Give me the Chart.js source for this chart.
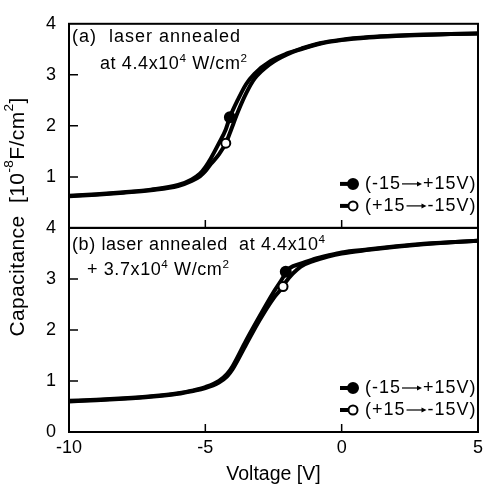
<!DOCTYPE html>
<html>
<head>
<meta charset="utf-8">
<script src="https://cdn.jsdelivr.net/npm/chart.js@4.4.0/dist/chart.umd.min.js"></script>
<style>
  html, body { margin: 0; padding: 0; background: #fff; }
  #wrap { width: 488px; height: 490px; }
</style>
</head>
<body>
<div id="wrap"><canvas id="myChart"></canvas></div>
<script>
// panel (a): laser annealed at 4.4x10^4 W/cm2
const voltsA = [-10, -9, -8, -7, -6, -5.5, -5.2, -5, -4.8, -4.5, -4.25, -4.1, -3.8, -3.5, -3.2, -2.6, -2, -1.5, -0.8, 0, 1, 2, 3, 4, 5];
const upA    = [0.63, 0.66, 0.70, 0.75, 0.84, 0.95, 1.06, 1.19, 1.36, 1.66, 1.93, 2.17, 2.52, 2.82, 3.02, 3.27, 3.42, 3.51, 3.62, 3.69, 3.74, 3.77, 3.79, 3.80, 3.81];
const downA  = [0.62, 0.65, 0.69, 0.74, 0.82, 0.92, 1.01, 1.11, 1.25, 1.44, 1.66, 1.86, 2.28, 2.64, 2.92, 3.22, 3.40, 3.50, 3.61, 3.68, 3.73, 3.76, 3.78, 3.80, 3.81];

// panel (b): laser annealed at 4.4x10^4 + 3.7x10^4 W/cm2
const voltsB = [-10, -9, -8, -7, -6, -5.5, -5, -4.5, -4.2, -4, -3.5, -3, -2.5, -2.15, -2.05, -1.5, -1, -0.5, 0, 1, 2, 3, 4, 5];
const upB    = [0.61, 0.63, 0.66, 0.70, 0.76, 0.81, 0.88, 1.00, 1.14, 1.29, 1.80, 2.28, 2.74, 3.03, 3.14, 3.30, 3.39, 3.46, 3.52, 3.58, 3.64, 3.69, 3.72, 3.75];
const downB  = [0.60, 0.62, 0.65, 0.69, 0.75, 0.80, 0.86, 0.97, 1.09, 1.23, 1.72, 2.20, 2.62, 2.85, 2.94, 3.24, 3.36, 3.44, 3.50, 3.57, 3.63, 3.68, 3.72, 3.75];

// index of the single marker drawn on each sweep
const markA = { up: 11, down: 10 };
const markB = { up: 14, down: 13 };

const sweepLabels = [['(-15', '+15V)'], ['(+15', '-15V)']];
const xTicks = [-5, 0];
const yTicks = [1, 2, 3];

const FONT = "'Liberation Sans', Arial, sans-serif";
Chart.defaults.font.family = FONT;
Chart.defaults.color = '#000';

function series(v, c, axis, mark, filled) {
    return {
        data: v.map((x, i) => ({ x: x, y: c[i] })),
        yAxisID: axis,
        borderColor: '#000',
        borderWidth: 4,
        cubicInterpolationMode: 'monotone',
        pointRadius: ctx => ctx.dataIndex === mark ? (filled ? 5 : 4.5) : 0,
        pointHoverRadius: 0,
        pointBackgroundColor: filled ? '#000' : '#fff',
        pointBorderColor: '#000',
        pointBorderWidth: 2
    };
}

// superscript-aware text writer, returns the end x
function rich(ctx, parts, x, y, size, spacing) {
    ctx.letterSpacing = (spacing || 0) + 'px';
    for (const p of parts) {
        const sup = Array.isArray(p);
        const t = sup ? p[0] : p;
        ctx.font = (sup ? size * 0.65 : size) + 'px ' + FONT;
        ctx.fillText(t, x, sup ? y - size * 0.4 : y);
        x += ctx.measureText(t).width;
    }
    ctx.letterSpacing = '0px';
    return x;
}

function arrow(ctx, x0, x1, y) {
    ctx.lineWidth = 1.2;
    ctx.beginPath(); ctx.moveTo(x0, y); ctx.lineTo(x1 - 4, y); ctx.stroke();
    ctx.beginPath(); ctx.moveTo(x1, y); ctx.lineTo(x1 - 5, y - 2.5); ctx.lineTo(x1 - 5, y + 2.5); ctx.closePath(); ctx.fill();
}

const decor = {
    id: 'decor',
    afterDraw(chart) {
        const { ctx, chartArea: a, scales } = chart;
        const x = scales.x;
        ctx.save();
        ctx.strokeStyle = '#000';
        ctx.fillStyle = '#000';

        ['yA', 'yB'].forEach(id => {
            const y = scales[id];
            ctx.lineWidth = 2;
            ctx.strokeRect(a.left, y.top, a.right - a.left, y.bottom - y.top);
            ctx.lineWidth = 1.5;
            ctx.beginPath();
            yTicks.forEach(v => {
                const py = y.getPixelForValue(v);
                ctx.moveTo(a.left, py); ctx.lineTo(a.left + 9, py);
            });
            xTicks.forEach(v => {
                const px = x.getPixelForValue(v);
                ctx.moveTo(px, y.bottom); ctx.lineTo(px, y.bottom - 8);
            });
            ctx.stroke();

            // legend
            sweepLabels.forEach((lab, i) => {
                const ly = y.bottom - 44 + i * 22;
                ctx.lineWidth = 4;
                ctx.beginPath(); ctx.moveTo(340, ly); ctx.lineTo(354, ly); ctx.stroke();
                ctx.beginPath();
                ctx.arc(353, ly, i === 0 ? 5 : 4.5, 0, Math.PI * 2);
                ctx.fillStyle = i === 0 ? '#000' : '#fff';
                ctx.fill();
                ctx.lineWidth = 2;
                ctx.stroke();
                ctx.fillStyle = '#000';
                ctx.textBaseline = 'middle';
                let ex = rich(ctx, [lab[0]], 365, ly, 18, 1);
                arrow(ctx, ex + 1, ex + 21, ly);
                rich(ctx, [lab[1]], ex + 22, ly, 18, 1);
            });
        });

        ctx.textBaseline = 'alphabetic';
        const ya = scales.yA, yb = scales.yB;
        rich(ctx, ['(a)  laser annealed'], a.left + 3, ya.top + 18, 18, 1);
        rich(ctx, ['at 4.4x10', ['4'], ' W/cm', ['2']], a.left + 31, ya.top + 45, 18, 0.6);
        rich(ctx, ['(b) laser annealed  at 4.4x10', ['4']], a.left + 3, yb.top + 22, 18, 0.6);
        rich(ctx, ['+ 3.7x10', ['4'], ' W/cm', ['2']], a.left + 18, yb.top + 47, 18, 0.6);

        // shared y title
        ctx.save();
        ctx.translate(18, (a.top + a.bottom) / 2 - 11);
        ctx.rotate(-Math.PI / 2);
        ctx.textBaseline = 'middle';
        const parts = ['Capacitance  [10', ['-8'], 'F/cm', ['2'], ']'];
        let w = 0;
        ctx.letterSpacing = '0.4px';
        parts.forEach(p => {
            const sup = Array.isArray(p);
            ctx.font = (sup ? 21 * 0.65 : 21) + 'px ' + FONT;
            w += ctx.measureText(sup ? p[0] : p).width;
        });
        rich(ctx, parts, -w / 2, 0, 21, 0.4);
        ctx.restore();

        ctx.restore();
    }
};

const ctx = document.getElementById('myChart').getContext('2d');
const myChart = new Chart(ctx, {
    type: 'line',
    data: {
        datasets: [
            series(voltsA, downA, 'yA', markA.down, false),
            series(voltsA, upA, 'yA', markA.up, true),
            series(voltsB, downB, 'yB', markB.down, false),
            series(voltsB, upB, 'yB', markB.up, true)
        ]
    },
    options: {
        responsive: true,
        maintainAspectRatio: false,
        animation: false,
        layout: { padding: { top: 15, right: 3, left: 0, bottom: 0 } },
        plugins: { legend: { display: false }, tooltip: { enabled: false } },
        scales: {
            x: {
                type: 'linear', min: -10, max: 5,
                ticks: { stepSize: 5, font: { size: 18 }, padding: 5 },
                grid: { display: false, drawTicks: false },
                border: { display: false },
                title: { display: true, text: 'Voltage [V]', font: { size: 19.5 }, padding: { top: 0, bottom: 4 } },
                afterFit: s => { s.height = 58; }
            },
            yB: {
                type: 'linear', position: 'left', stack: 'cap', min: 0, max: 4,
                ticks: { stepSize: 1, font: { size: 18 }, padding: 13 },
                grid: { display: false, drawTicks: false },
                border: { display: false },
                afterFit: s => { s.width = 69; }
            },
            yA: {
                type: 'linear', position: 'left', stack: 'cap', min: 0, max: 4,
                ticks: { stepSize: 1, font: { size: 18 }, padding: 13, callback: v => v === 0 ? '' : v },
                grid: { display: false, drawTicks: false },
                border: { display: false },
                afterFit: s => { s.width = 69; }
            }
        }
    },
    plugins: [decor]
});
</script>
</body>
</html>
